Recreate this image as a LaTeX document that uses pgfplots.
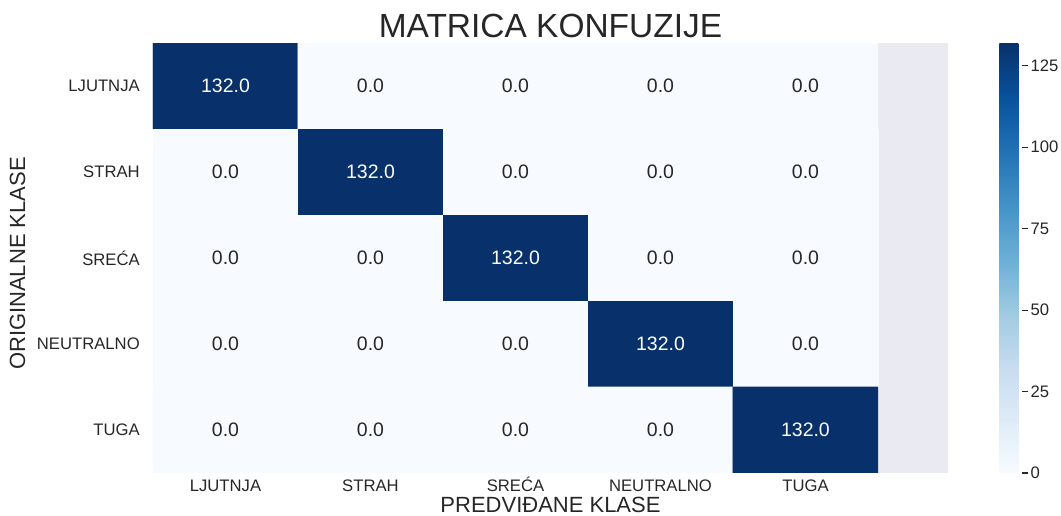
\documentclass[border=0pt]{standalone}
\usepackage{fontspec}
\setmainfont{Liberation Sans}
\usepackage{pgfplots}
\pgfplotsset{compat=1.18}
\definecolor{txt}{HTML}{262626}
\definecolor{axbg}{HTML}{EAEAF2}
\begin{document}
\begin{tikzpicture}
\path[use as bounding box] (-114.75pt,-32.25pt) rectangle (681pt,354.75pt);
\begin{axis}[
  at={(0,0)}, anchor=south west,
  scale only axis, width=596.25pt, height=322.5pt,
  xmin=-0.5, xmax=4.983, ymin=-0.5, ymax=4.5, y dir=reverse,
  enlargelimits=false,
  axis background/.style={fill=axbg},
  axis line style={draw=none},
  major tick length=0pt,
  xtick={0,1,2,3,4}, ytick={0,1,2,3,4},
  xticklabels={LJUTNJA,STRAH,SREĆA,NEUTRALNO,TUGA},
  yticklabels={LJUTNJA,STRAH,SREĆA,NEUTRALNO,TUGA},
  ticklabel style={font=\fontsize{12.5}{15}\selectfont, text=txt},
  xticklabel style={anchor=base, inner sep=0pt, yshift=-13.5pt},
  yticklabel style={anchor=east, inner sep=0pt, xshift=-9.75pt},
  title={MATRICA KONFUZIJE},
  title style={at={(axis description cs:0.5,1)}, anchor=base, yshift=-1.5pt, inner sep=0pt, font=\fontsize{25.1}{30}\selectfont, text=txt},
  xlabel={PREDVIĐANE KLASE},
  xlabel style={at={(axis description cs:0.5,0)}, anchor=base, yshift=-29.25pt, inner sep=0pt, font=\fontsize{16.5}{20}\selectfont, text=txt},
  ylabel={ORIGINALNE KLASE},
  ylabel style={at={(axis description cs:-0.161,0.487)}, anchor=base, inner sep=0pt, font=\fontsize{16.5}{20}\selectfont, text=txt},
  colormap={sbblues}{rgb255=(247,251,255) rgb255=(222,235,247) rgb255=(198,219,239) rgb255=(158,202,225) rgb255=(107,174,214) rgb255=(66,146,198) rgb255=(33,113,181) rgb255=(8,81,156) rgb255=(8,48,107)},
  point meta min=0, point meta max=132,
  colorbar,
  colorbar style={
    at={(parent axis.north east)}, anchor=north west, xshift=30pt,
    scale only axis, width=17.25pt, height=322.5pt,
    ytick={0,25,50,75,100,125},
    ytick pos=right, yticklabel pos=right,
    major tick length=4.5pt, tick align=outside,
    major tick style={draw=txt, line width=0.8pt},
    axis line style={draw=none},
    yticklabel style={font=\fontsize{12.5}{15}\selectfont, text=txt, /pgf/number format/assume math mode=true, anchor=west, inner sep=0pt, xshift=1.5pt},
  },
]
\addplot[matrix plot*, mesh/cols=5, point meta=explicit] table[meta=z] {
x y z
0 0 132
1 0 0
2 0 0
3 0 0
4 0 0
0 1 0
1 1 132
2 1 0
3 1 0
4 1 0
0 2 0
1 2 0
2 2 132
3 2 0
4 2 0
0 3 0
1 3 0
2 3 0
3 3 132
4 3 0
0 4 0
1 4 0
2 4 0
3 4 0
4 4 132
};
\addplot[only marks, mark=none, nodes near coords, point meta=explicit symbolic,
  every node near coord/.append style={anchor=center, inner sep=0pt, text=white, font=\fontsize{14.6}{17}\selectfont}] table[meta=lab] {
x y lab
0 0 132.0
1 1 132.0
2 2 132.0
3 3 132.0
4 4 132.0
};
\addplot[only marks, mark=none, nodes near coords, point meta=explicit symbolic,
  every node near coord/.append style={anchor=center, inner sep=0pt, text=txt, font=\fontsize{14.6}{17}\selectfont}] table[meta=lab] {
x y lab
1 0 0.0
2 0 0.0
3 0 0.0
4 0 0.0
0 1 0.0
2 1 0.0
3 1 0.0
4 1 0.0
0 2 0.0
1 2 0.0
3 2 0.0
4 2 0.0
0 3 0.0
1 3 0.0
2 3 0.0
4 3 0.0
0 4 0.0
1 4 0.0
2 4 0.0
3 4 0.0
};
\end{axis}
\end{tikzpicture}
\end{document}
